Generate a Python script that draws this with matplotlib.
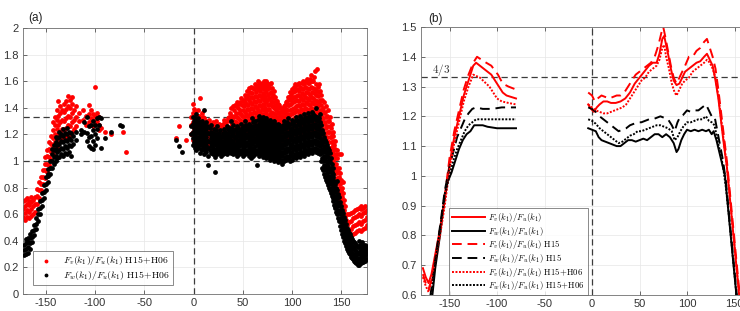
import matplotlib
matplotlib.use("Agg")
import matplotlib.pyplot as plt
import numpy as np
from matplotlib.ticker import FuncFormatter

plt.rcParams['font.family'] = ['Liberation Sans', 'DejaVu Sans']
plt.rcParams['mathtext.fontset'] = 'cm'
plt.rcParams['axes.unicode_minus'] = False

# ---- panel (a): scatter, columns of (angle, values) ----
red_cols = [
    (-173, (0.58, 0.64, 0.70)), (-171, (0.56, 0.61, 0.66, 0.71)),
    (-169, (0.58, 0.63, 0.68, 0.72)), (-167, (0.57, 0.62, 0.67, 0.70)),
    (-165, (0.59, 0.64, 0.69, 0.73)), (-163, (0.60, 0.66, 0.71)),
    (-161, (0.62, 0.68, 0.73)), (-159, (0.68, 0.74, 0.79)),
    (-157, (0.72, 0.78, 0.84)), (-155, (0.78, 0.83, 0.88)),
    (-153, (0.83, 0.88, 0.93)), (-151, (0.87, 0.93, 0.98, 1.03)),
    (-149, (0.92, 0.98, 1.04, 1.08)), (-147, (0.97, 1.03, 1.09, 1.14)),
    (-145, (1.01, 1.07, 1.13, 1.19)), (-143, (1.05, 1.11, 1.17, 1.23, 1.29)),
    (-141, (1.08, 1.14, 1.20, 1.27, 1.33)), (-139, (1.10, 1.17, 1.24, 1.31, 1.38)),
    (-137, (1.13, 1.20, 1.27, 1.34, 1.45)), (-135, (1.15, 1.22, 1.29, 1.36, 1.41)),
    (-133, (1.17, 1.24, 1.31, 1.38)), (-131, (1.16, 1.23, 1.30, 1.37, 1.43)),
    (-129, (1.18, 1.25, 1.32, 1.39, 1.45)), (-127, (1.20, 1.27, 1.34, 1.41, 1.49)),
    (-125, (1.19, 1.26, 1.33, 1.40, 1.46)), (-123, (1.22, 1.29, 1.36, 1.43, 1.48)),
    (-121, (1.24, 1.31, 1.38)), (-119, (1.26, 1.33, 1.41)),
    (-116, (1.30, 1.36)), (-112, (1.31, 1.38)), (-109, (1.27, 1.34)),
    (-106, (1.29, 1.35, 1.42)), (-104, (1.32, 1.38)), (-102, (1.26, 1.31, 1.35)),
    (-100, (1.28, 1.34, 1.56)), (-98, (1.30, 1.36)), (-96, (1.23, 1.27, 1.33)),
    (-94, (1.25,)), (-90, (1.22,)), (-84, (1.20,)), (-72, (1.22,)), (-69, (1.07,)),
    (-18, (1.17,)), (-15, (1.26,)), (-8, (1.16,)),
    (-3, (1.20, 1.27, 1.33)), (-1, (1.16, 1.22, 1.29, 1.36, 1.43)),
    (1, (1.13, 1.19, 1.25, 1.31, 1.37)), (3, (1.15, 1.21, 1.28, 1.34)),
    (5, (1.12, 1.18, 1.24, 1.30, 1.38)), (7, (1.16, 1.22, 1.28, 1.47)),
    (9, (1.13, 1.19, 1.25, 1.31, 1.36)), (11, (1.14, 1.20, 1.27, 1.32)),
    (13, (1.13, 1.19, 1.25, 1.30)), (15, (1.12, 1.18, 1.24, 1.29)),
    (17, (1.15, 1.21, 1.27)), (19, (1.12, 1.18, 1.23, 1.28)),
    (21, (1.14, 1.20, 1.26)), (23, (1.13, 1.19, 1.24, 1.30)),
    (25, (1.12, 1.17, 1.22)), (27, (1.14, 1.20, 1.25)),
    (29, (1.12, 1.18, 1.24)), (31, (1.13, 1.19, 1.26, 1.31)),
    (33, (1.14, 1.20, 1.27)), (35, (1.12, 1.18, 1.25, 1.32)),
    (37, (1.15, 1.22, 1.30, 1.36)), (39, (1.14, 1.20, 1.28, 1.34)),
    (41, (1.16, 1.23, 1.30, 1.38)), (43, (1.15, 1.22, 1.29, 1.36, 1.41)),
    (45, (1.17, 1.24, 1.32, 1.40)), (47, (1.16, 1.23, 1.31, 1.38, 1.44)),
    (49, (1.18, 1.26, 1.34, 1.42)), (51, (1.17, 1.25, 1.33, 1.41, 1.46)),
    (53, (1.19, 1.27, 1.35, 1.43, 1.48)), (55, (1.18, 1.26, 1.34, 1.42, 1.50)),
    (57, (1.20, 1.28, 1.36, 1.44, 1.52)), (59, (1.19, 1.27, 1.35, 1.43, 1.51)),
    (61, (1.21, 1.29, 1.37, 1.45, 1.54)), (63, (1.20, 1.28, 1.36, 1.44, 1.52, 1.57)),
    (65, (1.22, 1.30, 1.38, 1.46, 1.54, 1.60)), (67, (1.21, 1.29, 1.37, 1.45, 1.53, 1.59)),
    (69, (1.23, 1.31, 1.39, 1.47, 1.55, 1.58)), (71, (1.22, 1.30, 1.38, 1.46, 1.54, 1.60)),
    (73, (1.24, 1.32, 1.40, 1.48, 1.56)), (75, (1.22, 1.30, 1.38, 1.46, 1.54, 1.59)),
    (77, (1.23, 1.31, 1.39, 1.47, 1.55)), (79, (1.21, 1.29, 1.37, 1.45, 1.52, 1.59)),
    (81, (1.20, 1.28, 1.36, 1.44, 1.50)), (83, (1.19, 1.27, 1.35, 1.42, 1.48)),
    (85, (1.18, 1.26, 1.33, 1.40, 1.45)), (87, (1.16, 1.24, 1.31, 1.37, 1.42)),
    (89, (1.15, 1.22, 1.29, 1.34, 1.40)), (91, (1.14, 1.21, 1.28, 1.33, 1.38)),
    (93, (1.16, 1.23, 1.30, 1.36, 1.42)), (95, (1.17, 1.24, 1.31, 1.38, 1.45)),
    (97, (1.18, 1.26, 1.34, 1.42, 1.48)), (99, (1.19, 1.27, 1.35, 1.43, 1.50)),
    (101, (1.20, 1.28, 1.36, 1.44, 1.52)), (103, (1.21, 1.29, 1.37, 1.45, 1.53, 1.58)),
    (105, (1.22, 1.30, 1.38, 1.46, 1.54)), (107, (1.21, 1.29, 1.37, 1.45, 1.53, 1.59)),
    (109, (1.23, 1.31, 1.39, 1.47, 1.55)), (111, (1.22, 1.30, 1.38, 1.46, 1.54, 1.60)),
    (113, (1.24, 1.32, 1.40, 1.48, 1.56)), (115, (1.23, 1.31, 1.39, 1.47, 1.55, 1.62)),
    (117, (1.22, 1.30, 1.38, 1.46, 1.54, 1.59)), (119, (1.24, 1.32, 1.40, 1.48, 1.56, 1.65)),
    (121, (1.23, 1.31, 1.39, 1.47, 1.55, 1.60)), (123, (1.22, 1.30, 1.38, 1.46, 1.54, 1.68)),
    (125, (1.21, 1.29, 1.37, 1.45, 1.53, 1.69)), (127, (1.20, 1.28, 1.36, 1.44, 1.52, 1.58)),
    (130, (1.14, 1.22, 1.30, 1.38, 1.46)), (132, (1.12, 1.20, 1.28, 1.36, 1.44)),
    (134, (1.10, 1.17, 1.25, 1.33, 1.41)), (136, (1.06, 1.14, 1.22, 1.30, 1.38)),
    (138, (1.02, 1.10, 1.18, 1.26, 1.33)), (140, (0.98, 1.06, 1.14, 1.21, 1.28)),
    (142, (0.92, 1.00, 1.08, 1.15, 1.22)), (144, (0.86, 0.94, 1.02, 1.09, 1.15)),
    (146, (0.79, 0.87, 0.95, 1.02, 1.08)), (148, (0.72, 0.80, 0.88, 0.95, 1.05)),
    (150, (0.62, 0.70, 0.78, 0.86, 1.05)), (152, (0.52, 0.60, 0.68, 0.76, 0.84)),
    (154, (0.42, 0.50, 0.58, 0.66)), (156, (0.37, 0.45, 0.52, 0.60)),
    (158, (0.40, 0.47, 0.54, 0.60)), (160, (0.43, 0.49, 0.55, 0.61)),
    (162, (0.45, 0.51, 0.57, 0.62)), (164, (0.46, 0.52, 0.58, 0.63)),
    (166, (0.47, 0.53, 0.59, 0.64)), (168, (0.48, 0.54, 0.60, 0.65)),
    (170, (0.47, 0.53, 0.59, 0.64, 0.66)), (172, (0.49, 0.55, 0.61, 0.65)),
    (174, (0.50, 0.56, 0.62, 0.66)), (176, (0.52, 0.58, 0.63)),
]

# denser red points inside the main cloud
red_fill_cols = [
    (0, (1.19, 1.25, 1.33, 1.39)), (2, (1.16, 1.22, 1.28, 1.34)), (4, (1.18, 1.24, 1.31)),
    (6, (1.15, 1.21, 1.27, 1.34)), (8, (1.19, 1.25, 1.32)), (10, (1.16, 1.22, 1.28, 1.33)),
    (12, (1.17, 1.23, 1.29)), (14, (1.16, 1.22, 1.27)), (16, (1.18, 1.24, 1.31)),
    (18, (1.15, 1.21, 1.26)), (20, (1.17, 1.23, 1.29)), (22, (1.16, 1.22, 1.27)),
    (24, (1.15, 1.20, 1.26)), (26, (1.17, 1.23, 1.28)), (28, (1.15, 1.21, 1.27)),
    (30, (1.16, 1.22, 1.28)), (32, (1.17, 1.23, 1.29)), (34, (1.16, 1.23, 1.30)),
    (36, (1.18, 1.25, 1.33)), (38, (1.18, 1.26, 1.33, 1.40)), (40, (1.17, 1.25, 1.33, 1.41)),
    (42, (1.19, 1.27, 1.34, 1.42)), (44, (1.19, 1.26, 1.33, 1.44)),
    (46, (1.20, 1.28, 1.36, 1.43)), (48, (1.20, 1.27, 1.35, 1.47)),
    (50, (1.22, 1.30, 1.38, 1.45)), (52, (1.21, 1.29, 1.37, 1.44, 1.50)),
    (54, (1.23, 1.31, 1.39, 1.47, 1.53)), (56, (1.22, 1.30, 1.38, 1.46, 1.55)),
    (58, (1.24, 1.32, 1.40, 1.48, 1.56)), (60, (1.23, 1.31, 1.39, 1.47, 1.55)),
    (62, (1.25, 1.33, 1.41, 1.49, 1.58)), (64, (1.24, 1.32, 1.40, 1.48, 1.56)),
    (66, (1.26, 1.34, 1.42, 1.50, 1.57)), (68, (1.25, 1.33, 1.41, 1.49, 1.56)),
    (70, (1.27, 1.35, 1.43, 1.51, 1.59)), (72, (1.26, 1.34, 1.42, 1.50, 1.57)),
    (74, (1.28, 1.36, 1.44, 1.52, 1.60)), (76, (1.26, 1.34, 1.42, 1.50, 1.57)),
    (78, (1.27, 1.35, 1.43, 1.51, 1.58)), (80, (1.25, 1.33, 1.41, 1.48, 1.55)),
    (82, (1.24, 1.32, 1.40, 1.47, 1.53)), (84, (1.23, 1.31, 1.38, 1.45)),
    (86, (1.22, 1.29, 1.36, 1.43)), (88, (1.20, 1.27, 1.34, 1.40)),
    (90, (1.18, 1.25, 1.31, 1.37)), (92, (1.18, 1.25, 1.31, 1.36, 1.41)),
    (94, (1.20, 1.27, 1.33, 1.39, 1.44)), (96, (1.21, 1.28, 1.35, 1.42, 1.48)),
    (98, (1.22, 1.30, 1.38, 1.46, 1.52)), (100, (1.23, 1.31, 1.39, 1.47, 1.54)),
    (102, (1.24, 1.32, 1.40, 1.48, 1.56)), (104, (1.25, 1.33, 1.41, 1.49, 1.57)),
    (106, (1.26, 1.34, 1.42, 1.50, 1.58)), (108, (1.25, 1.33, 1.41, 1.49, 1.56)),
    (110, (1.27, 1.35, 1.43, 1.51, 1.59)), (112, (1.26, 1.34, 1.42, 1.50, 1.58)),
    (114, (1.28, 1.36, 1.44, 1.52, 1.60)), (116, (1.27, 1.35, 1.43, 1.51, 1.59)),
    (118, (1.26, 1.34, 1.42, 1.50, 1.62)), (120, (1.28, 1.36, 1.44, 1.52, 1.60)),
    (122, (1.27, 1.35, 1.43, 1.51, 1.63)), (124, (1.26, 1.34, 1.42, 1.50, 1.58)),
    (126, (1.25, 1.33, 1.41, 1.49, 1.56)), (128, (1.22, 1.30, 1.38, 1.46, 1.53)),
    (129, (1.18, 1.26, 1.34, 1.42, 1.50)), (131, (1.16, 1.24, 1.32, 1.40)),
    (133, (1.14, 1.21, 1.29, 1.37)), (135, (1.10, 1.18, 1.26, 1.34)),
    (137, (1.06, 1.14, 1.22, 1.30)), (139, (1.02, 1.10, 1.18, 1.25)),
    (141, (0.96, 1.04, 1.12, 1.19)), (143, (0.90, 0.98, 1.05, 1.12)),
    (145, (0.83, 0.91, 0.98, 1.05)), (147, (0.76, 0.84, 0.92)),
    (149, (0.67, 0.75, 0.83, 0.91)), (151, (0.57, 0.65, 0.73, 0.80)),
    (153, (0.47, 0.55, 0.63, 0.71)), (155, (0.40, 0.48, 0.56)),
]

black_cols = [
    (-172, (0.29, 0.33, 0.37)), (-170, (0.30, 0.34, 0.38, 0.41)),
    (-168, (0.31, 0.35, 0.39, 0.42)), (-166, (0.34, 0.38, 0.42, 0.45)),
    (-164, (0.39, 0.43, 0.47)), (-162, (0.44, 0.48, 0.52)),
    (-160, (0.49, 0.53, 0.57)), (-158, (0.55, 0.60, 0.64)),
    (-156, (0.60, 0.65, 0.70)), (-154, (0.66, 0.71, 0.76)),
    (-152, (0.72, 0.77, 0.82)), (-150, (0.78, 0.83, 0.88)),
    (-148, (0.84, 0.89, 0.94, 0.90)), (-146, (0.90, 0.95, 1.00)),
    (-144, (0.95, 1.00, 1.05, 1.09)), (-142, (0.98, 1.03, 1.08, 1.12)),
    (-140, (1.00, 1.04, 1.09, 1.14, 1.18)), (-138, (1.02, 1.07, 1.12, 1.17)),
    (-136, (1.03, 1.08, 1.13, 1.18, 1.22)), (-134, (1.05, 1.10, 1.15, 1.20)),
    (-132, (1.04, 1.09, 1.14, 1.19, 1.24)), (-130, (1.06, 1.11, 1.16, 1.21)),
    (-128, (1.05, 1.10, 1.15, 1.20, 1.25)), (-126, (1.07, 1.12, 1.17, 1.22)),
    (-124, (1.04, 1.11, 1.16, 1.21)), (-122, (1.13, 1.19)), (-119, (1.16, 1.22)),
    (-114, (1.20, 1.23)), (-111, (1.22, 1.29)), (-108, (1.15, 1.21, 1.33)),
    (-106, (1.11, 1.18, 1.26)), (-104, (1.10, 1.19, 1.27)),
    (-102, (1.09, 1.15, 1.23, 1.30)), (-100, (1.12, 1.20, 1.27)),
    (-98, (1.17, 1.24, 1.32)), (-96, (1.27, 1.33)), (-94, (1.10, 1.32)),
    (-90, (1.17,)), (-84, (1.22,)), (-75, (1.27,)), (-73, (1.26,)),
    (-18, (1.16,)), (-15, (1.11,)), (-12, (1.07,)),
    (-3, (1.20, 1.26)), (-1, (1.12, 1.17, 1.22, 1.28, 1.33)),
    (1, (1.10, 1.15, 1.20, 1.26, 1.32)), (3, (1.08, 1.13, 1.18, 1.24, 1.30, 1.35)),
    (5, (1.10, 1.15, 1.21, 1.27, 1.32)), (7, (1.06, 1.12, 1.18, 1.23, 1.29)),
    (9, (1.08, 1.13, 1.19, 1.25, 1.30)), (11, (1.05, 1.11, 1.17, 1.22, 1.27, 1.38)),
    (13, (1.07, 1.12, 1.18, 1.24, 1.29)), (15, (1.04, 1.10, 1.15, 1.21, 0.97)),
    (18, (1.06, 1.11, 1.17, 1.22, 1.27)), (20, (1.05, 1.10, 1.16, 1.21)),
    (22, (1.03, 1.08, 1.14, 1.20, 0.92)), (24, (1.05, 1.10, 1.15, 1.20, 1.26)),
    (26, (1.06, 1.11, 1.16, 1.21)), (28, (1.04, 1.09, 1.14, 1.19)),
    (30, (1.05, 1.10, 1.15, 1.21)), (32, (1.06, 1.11, 1.16, 1.22)),
    (34, (1.05, 1.10, 1.15, 1.20, 1.26)), (36, (1.07, 1.12, 1.17, 1.22)),
    (38, (1.06, 1.11, 1.16, 1.22, 1.30)), (40, (1.05, 1.10, 1.15, 1.21, 1.27)),
    (42, (1.06, 1.11, 1.17, 1.23)), (44, (1.04, 1.10, 1.15, 1.21, 1.26)),
    (46, (1.05, 1.11, 1.16, 1.22)), (48, (1.06, 1.12, 1.17, 1.23, 1.28)),
    (50, (1.04, 1.10, 1.16, 1.22)), (52, (1.05, 1.11, 1.17, 1.23, 1.30)),
    (54, (1.06, 1.12, 1.18, 1.24)), (56, (1.04, 1.10, 1.16, 1.22, 1.28)),
    (58, (1.02, 1.08, 1.14, 1.20, 1.26)), (60, (1.04, 1.10, 1.16, 1.22, 1.29)),
    (62, (1.05, 1.11, 1.17, 1.23, 1.30)), (64, (0.97, 1.06, 1.12, 1.18, 1.24)),
    (66, (1.04, 1.10, 1.16, 1.22, 1.28, 1.34)), (68, (1.05, 1.11, 1.17, 1.23, 1.29)),
    (70, (1.03, 1.09, 1.15, 1.21, 1.27, 1.33)), (72, (1.04, 1.10, 1.16, 1.22, 1.28)),
    (74, (1.02, 1.08, 1.14, 1.20, 1.26, 1.32)), (76, (1.03, 1.09, 1.15, 1.21, 1.27)),
    (78, (1.01, 1.07, 1.13, 1.19, 1.25, 1.31)), (80, (1.02, 1.08, 1.14, 1.20, 1.26)),
    (82, (1.00, 1.06, 1.12, 1.18, 1.24, 1.30)), (84, (1.01, 1.07, 1.13, 1.19, 1.25)),
    (86, (0.99, 1.05, 1.11, 1.17, 1.23, 1.28)), (88, (1.00, 1.06, 1.12, 1.18, 1.24)),
    (90, (0.98, 1.04, 1.10, 1.16, 1.22)), (92, (1.00, 1.06, 1.12, 1.18, 1.24, 1.30)),
    (94, (1.01, 1.07, 1.13, 1.19, 1.25)), (96, (1.02, 1.08, 1.14, 1.20, 1.26, 1.32)),
    (98, (1.00, 1.06, 1.12, 1.18, 1.24)), (100, (1.01, 1.07, 1.13, 1.19, 1.25, 1.31)),
    (102, (1.03, 1.09, 1.15, 1.21, 1.27)), (104, (1.02, 1.08, 1.14, 1.20, 1.26, 1.33)),
    (106, (1.04, 1.10, 1.16, 1.22, 1.28)), (108, (1.03, 1.09, 1.15, 1.21, 1.27, 1.34)),
    (110, (1.05, 1.11, 1.17, 1.23, 1.29)), (112, (1.04, 1.10, 1.16, 1.22, 1.28, 1.35)),
    (114, (1.06, 1.12, 1.18, 1.24, 1.30)), (116, (1.05, 1.11, 1.17, 1.23, 1.29, 1.36)),
    (118, (1.07, 1.13, 1.19, 1.25, 1.31)), (120, (1.06, 1.12, 1.18, 1.24, 1.30, 1.37)),
    (122, (1.08, 1.14, 1.20, 1.26, 1.32)), (124, (1.07, 1.13, 1.19, 1.25, 1.31, 1.40)),
    (126, (1.06, 1.12, 1.18, 1.24, 1.30)), (128, (1.05, 1.11, 1.17, 1.23, 1.29, 1.35)),
    (130, (0.95, 1.02, 1.09, 1.16, 1.23)), (132, (0.90, 0.97, 1.04, 1.11, 1.18)),
    (134, (0.86, 0.93, 1.00, 1.07, 1.14)), (136, (0.82, 0.89, 0.96, 1.03, 1.10)),
    (138, (0.78, 0.85, 0.92, 0.99, 1.06)), (140, (0.74, 0.80, 0.86, 0.92, 0.98)),
    (142, (0.70, 0.76, 0.82, 0.88, 0.95)), (144, (0.65, 0.71, 0.77, 0.83, 0.66)),
    (146, (0.60, 0.66, 0.72, 0.78, 0.85)), (148, (0.55, 0.61, 0.67, 0.73)),
    (150, (0.48, 0.54, 0.60, 0.66)), (152, (0.43, 0.49, 0.55, 0.61)),
    (154, (0.38, 0.44, 0.50, 0.56)), (156, (0.34, 0.39, 0.45, 0.50)),
    (158, (0.31, 0.36, 0.41, 0.46)), (160, (0.28, 0.33, 0.38, 0.43)),
    (162, (0.26, 0.30, 0.35, 0.40)), (164, (0.24, 0.28, 0.33, 0.38)),
    (166, (0.23, 0.27, 0.31, 0.36)), (168, (0.22, 0.26, 0.30, 0.35, 0.40)),
    (170, (0.23, 0.27, 0.31, 0.36)), (172, (0.24, 0.28, 0.32, 0.37)),
    (174, (0.25, 0.29, 0.33, 0.37)), (176, (0.26, 0.30, 0.34)),
]

# denser black points inside the main cloud
black_fill_cols = [
    (0, (1.14, 1.20, 1.25, 1.30)), (2, (1.12, 1.18, 1.23, 1.29)), (4, (1.11, 1.16, 1.22, 1.27)),
    (6, (1.13, 1.18, 1.24, 1.29)), (8, (1.09, 1.15, 1.21, 1.26)), (10, (1.10, 1.16, 1.22, 1.28)),
    (12, (1.08, 1.14, 1.20, 1.25)), (14, (1.10, 1.15, 1.21, 1.26)),
    (17, (1.08, 1.14, 1.20, 1.25)), (19, (1.07, 1.13, 1.19)), (21, (1.08, 1.13, 1.18, 1.24)),
    (23, (1.06, 1.12, 1.17, 1.23)), (25, (1.08, 1.13, 1.18)), (27, (1.07, 1.12, 1.17, 1.23)),
    (29, (1.07, 1.12, 1.18)), (31, (1.08, 1.13, 1.19, 1.24)), (33, (1.08, 1.13, 1.18)),
    (35, (1.07, 1.12, 1.18, 1.24)), (37, (1.09, 1.14, 1.19, 1.25)),
    (39, (1.08, 1.13, 1.19, 1.24)), (41, (1.07, 1.13, 1.19)), (43, (1.08, 1.13, 1.18, 1.24)),
    (45, (1.07, 1.13, 1.19, 1.25)), (47, (1.08, 1.14, 1.20)), (49, (1.07, 1.13, 1.19, 1.25)),
    (51, (1.08, 1.14, 1.20, 1.26)), (53, (1.08, 1.14, 1.20, 1.27)),
    (55, (1.07, 1.13, 1.19, 1.25)), (57, (1.05, 1.11, 1.17, 1.23)),
    (59, (1.07, 1.13, 1.19, 1.25, 1.32)), (61, (1.08, 1.14, 1.20, 1.26)),
    (63, (1.08, 1.15, 1.21, 1.27)), (65, (1.07, 1.13, 1.19, 1.25, 1.31)),
    (67, (1.08, 1.14, 1.20, 1.26, 1.32)), (69, (1.06, 1.12, 1.18, 1.24, 1.30)),
    (71, (1.07, 1.13, 1.19, 1.25, 1.31)), (73, (1.05, 1.11, 1.17, 1.23, 1.29)),
    (75, (1.06, 1.12, 1.18, 1.24, 1.30)), (77, (1.04, 1.10, 1.16, 1.22, 1.28)),
    (79, (1.05, 1.11, 1.17, 1.23, 1.29)), (81, (1.03, 1.09, 1.15, 1.21, 1.27)),
    (83, (1.04, 1.10, 1.16, 1.22, 1.28)), (85, (1.02, 1.08, 1.14, 1.20, 1.26)),
    (87, (1.03, 1.09, 1.15, 1.21, 1.27)), (89, (1.01, 1.07, 1.13, 1.19, 1.25)),
    (91, (1.01, 1.07, 1.13, 1.19, 1.27)), (93, (1.03, 1.09, 1.15, 1.21, 1.27)),
    (95, (1.04, 1.10, 1.16, 1.22, 1.29)), (97, (1.03, 1.09, 1.15, 1.21, 1.28)),
    (99, (1.04, 1.10, 1.16, 1.22, 1.28)), (101, (1.04, 1.10, 1.16, 1.22, 1.29)),
    (103, (1.05, 1.11, 1.17, 1.23, 1.30)), (105, (1.06, 1.12, 1.18, 1.24, 1.31)),
    (107, (1.06, 1.12, 1.18, 1.24, 1.30)), (109, (1.07, 1.13, 1.19, 1.25, 1.32)),
    (111, (1.07, 1.13, 1.19, 1.25, 1.31)), (113, (1.08, 1.14, 1.20, 1.26, 1.33)),
    (115, (1.08, 1.14, 1.20, 1.26, 1.32)), (117, (1.09, 1.15, 1.21, 1.27, 1.34)),
    (119, (1.09, 1.15, 1.21, 1.27, 1.33)), (121, (1.09, 1.15, 1.21, 1.27, 1.35)),
    (123, (1.10, 1.16, 1.22, 1.28, 1.34)), (125, (1.09, 1.15, 1.21, 1.27, 1.33)),
    (127, (1.08, 1.14, 1.20, 1.26, 1.32)), (129, (1.00, 1.06, 1.13, 1.20, 1.27)),
    (131, (0.93, 1.00, 1.07, 1.14, 1.21)), (133, (0.88, 0.95, 1.02, 1.09, 1.16)),
    (135, (0.84, 0.91, 0.98, 1.05, 1.12)), (137, (0.80, 0.87, 0.94, 1.01, 1.08)),
    (139, (0.76, 0.83, 0.89, 0.95, 1.02)), (141, (0.72, 0.78, 0.84, 0.90)),
    (143, (0.67, 0.73, 0.79, 0.85)), (145, (0.62, 0.68, 0.74, 0.80)),
    (147, (0.57, 0.63, 0.69, 0.75)), (149, (0.51, 0.57, 0.63, 0.69)),
    (151, (0.45, 0.51, 0.57, 0.63)), (153, (0.40, 0.46, 0.52, 0.58)),
    (155, (0.36, 0.41, 0.47, 0.53)), (157, (0.32, 0.38, 0.43, 0.48)),
    (159, (0.30, 0.35, 0.40, 0.45)), (161, (0.27, 0.31, 0.36, 0.41)),
    (163, (0.25, 0.29, 0.34, 0.39)), (165, (0.23, 0.28, 0.32, 0.37)),
    (167, (0.22, 0.26, 0.31, 0.35)), (169, (0.23, 0.27, 0.32, 0.37)),
    (171, (0.24, 0.29, 0.34, 0.39)), (173, (0.25, 0.30, 0.35)), (175, (0.26, 0.31, 0.36)),
]

# ---- panel (b): averaged ratios, two segments each (NaN = gap) ----
rs_x = [-178, -175, -172, -169, -166, -163, -160, -155, -150, -145, -140, -135, -130, -125, -122,
        -118, -114, -110, -106, -102, -98, -94, -90, -85, -80, np.nan,
        -4, -1, 2, 5, 8, 12, 16, 20, 25, 30, 35, 40, 45, 50, 55, 60, 64, 68, 71, 74, 76, 78, 80,
        83, 86, 89, 92, 95, 98, 102, 106, 110, 114, 118, 121, 124, 127, 130, 133, 136, 139, 142,
        145, 148, 151, 154, 157]
rs_y = [0.69, 0.66, 0.64, 0.67, 0.72, 0.77, 0.82, 0.92, 1.04, 1.13, 1.20, 1.27, 1.32, 1.37, 1.38,
        1.37, 1.36, 1.35, 1.34, 1.32, 1.30, 1.28, 1.27, 1.265, 1.26, np.nan,
        1.24, 1.225, 1.215, 1.23, 1.24, 1.25, 1.25, 1.245, 1.245, 1.25, 1.26, 1.28, 1.31, 1.33,
        1.35, 1.37, 1.38, 1.38, 1.41, 1.46, 1.47, 1.44, 1.41, 1.36, 1.32, 1.305, 1.31, 1.33,
        1.35, 1.36, 1.37, 1.38, 1.385, 1.40, 1.41, 1.39, 1.37, 1.32, 1.26, 1.18, 1.10, 1.03,
        0.93, 0.83, 0.73, 0.63, 0.53]

rd_x = [-178, -175, -172, -169, -166, -163, -160, -155, -150, -145, -140, -135, -130, -125, -121,
        -114, -106, -99, -94, -88, -80, np.nan,
        -4, 0, 3, 6, 10, 14, 18, 22, 26, 30, 34, 38, 42, 46, 50, 54, 58, 62, 66, 70, 73, 75, 77,
        80, 83, 86, 89, 92, 95, 98, 102, 106, 110, 114, 118, 121, 124, 127, 130, 133, 136, 139,
        142, 145, 148, 151, 154, 157]
rd_y = [0.67, 0.64, 0.62, 0.65, 0.71, 0.76, 0.81, 0.93, 1.06, 1.15, 1.22, 1.29, 1.34, 1.38, 1.40,
        1.385, 1.37, 1.34, 1.31, 1.30, 1.29, np.nan,
        1.28, 1.27, 1.25, 1.26, 1.27, 1.265, 1.26, 1.265, 1.27, 1.27, 1.28, 1.30, 1.32, 1.34,
        1.35, 1.36, 1.37, 1.38, 1.40, 1.44, 1.48, 1.50, 1.47, 1.42, 1.37, 1.33, 1.31, 1.33, 1.35,
        1.37, 1.40, 1.40, 1.42, 1.43, 1.45, 1.46, 1.43, 1.40, 1.36, 1.29, 1.21, 1.13, 1.05, 0.95,
        0.85, 0.75, 0.65, 0.55]

rp_x = [-178, -175, -172, -169, -166, -163, -160, -155, -150, -145, -140, -135, -130, -125,
        -118, -108, -100, -95, -88, -80, np.nan,
        -4, 0, 4, 8, 12, 16, 20, 24, 28, 32, 36, 40, 44, 48, 52, 56, 60, 64, 68, 71, 74, 76, 78,
        81, 84, 87, 89, 92, 95, 98, 102, 106, 110, 114, 118, 121, 124, 127, 130, 133, 136, 139,
        142, 145, 148, 151, 154, 157]
rp_y = [0.66, 0.63, 0.61, 0.64, 0.70, 0.75, 0.80, 0.90, 1.02, 1.11, 1.18, 1.25, 1.30, 1.34,
        1.33, 1.30, 1.26, 1.25, 1.245, 1.24, np.nan,
        1.24, 1.23, 1.22, 1.215, 1.21, 1.21, 1.215, 1.22, 1.225, 1.23, 1.24, 1.26, 1.28, 1.30,
        1.32, 1.33, 1.35, 1.36, 1.37, 1.39, 1.43, 1.44, 1.40, 1.36, 1.31, 1.28, 1.27, 1.29, 1.31,
        1.32, 1.33, 1.35, 1.36, 1.37, 1.38, 1.39, 1.38, 1.36, 1.33, 1.27, 1.19, 1.11, 1.03, 0.93,
        0.83, 0.73, 0.63, 0.53]

ks_x = [-172, -168, -165, -160, -155, -152, -148, -145, -140, -136, -132, -128, -124, -120, -115,
        -110, -100, -90, -80, np.nan,
        -4, 0, 4, 7, 10, 14, 18, 22, 26, 30, 34, 38, 42, 46, 50, 54, 58, 62, 66, 70, 74, 78, 82,
        86, 89, 91, 94, 97, 100, 104, 108, 112, 116, 120, 123, 126, 128, 131, 134, 137, 140, 143,
        146, 149, 152, 155]
ks_y = [0.52, 0.60, 0.69, 0.80, 0.93, 0.98, 1.01, 1.04, 1.09, 1.12, 1.14, 1.15, 1.17, 1.17,
        1.17, 1.165, 1.16, 1.16, 1.16, np.nan,
        1.16, 1.155, 1.15, 1.13, 1.12, 1.115, 1.11, 1.105, 1.10, 1.10, 1.11, 1.12, 1.12, 1.115,
        1.12, 1.125, 1.12, 1.13, 1.14, 1.14, 1.13, 1.14, 1.13, 1.11, 1.08, 1.09, 1.12, 1.14,
        1.155, 1.15, 1.155, 1.15, 1.155, 1.15, 1.155, 1.14, 1.15, 1.12, 1.08, 1.04, 1.00, 0.90,
        0.80, 0.70, 0.60, 0.50]

kd_x = [-173, -170, -165, -160, -155, -150, -146, -142, -138, -134, -130, -126, -122, -115,
        -105, -95, -80, np.nan,
        -4, 0, 4, 8, 12, 16, 20, 24, 28, 32, 36, 40, 44, 48, 52, 56, 60, 64, 68, 72, 76, 80, 84,
        87, 90, 93, 96, 100, 104, 108, 112, 116, 120, 123, 126, 129, 132, 135, 138, 141, 144, 147,
        150, 153]
kd_y = [0.52, 0.60, 0.72, 0.83, 0.95, 1.03, 1.08, 1.13, 1.16, 1.19, 1.21, 1.225, 1.23, 1.225,
        1.225, 1.23, 1.23, np.nan,
        1.23, 1.225, 1.215, 1.20, 1.19, 1.18, 1.17, 1.16, 1.15, 1.155, 1.16, 1.17, 1.175, 1.18,
        1.18, 1.185, 1.19, 1.19, 1.195, 1.20, 1.195, 1.19, 1.17, 1.15, 1.18, 1.20, 1.205, 1.22,
        1.215, 1.22, 1.22, 1.23, 1.24, 1.22, 1.20, 1.20, 1.15, 1.10, 1.05, 0.98, 0.88, 0.78,
        0.68, 0.58]

kp_x = [-172, -169, -165, -160, -155, -150, -146, -142, -138, -134, -130, -126, -122, -110,
        -100, -80, np.nan,
        -4, 0, 4, 8, 12, 16, 20, 24, 28, 32, 36, 40, 44, 48, 52, 56, 60, 64, 68, 72, 76, 80, 84,
        87, 90, 93, 96, 100, 104, 108, 112, 116, 120, 123, 126, 129, 132, 135, 138, 141, 144, 147,
        150, 153]
kp_y = [0.53, 0.60, 0.71, 0.82, 0.94, 1.00, 1.05, 1.09, 1.12, 1.15, 1.17, 1.18, 1.19, 1.19,
        1.19, 1.19, np.nan,
        1.19, 1.185, 1.175, 1.16, 1.15, 1.14, 1.13, 1.12, 1.11, 1.115, 1.125, 1.135, 1.14, 1.15,
        1.15, 1.155, 1.16, 1.165, 1.17, 1.17, 1.165, 1.16, 1.15, 1.12, 1.13, 1.15, 1.165, 1.18,
        1.18, 1.185, 1.19, 1.19, 1.20, 1.185, 1.18, 1.17, 1.12, 1.08, 1.03, 0.96, 0.87, 0.77,
        0.67, 0.57]


def flatten(cols):
    xs = [x for x, ys in cols for _ in ys]
    ys = [y for _, ys in cols for y in ys]
    return np.array(xs, float), np.array(ys, float)


def matlab_style(ax):
    ax.tick_params(direction='in', length=3, width=0.5, colors='#333333',
                   labelsize=8, top=True, right=True, pad=3)
    for s in ax.spines.values():
        s.set_color('#6f6f6f')
        s.set_linewidth(0.6)
    ax.grid(True, color='#e6e6e6', lw=0.5)
    ax.set_axisbelow(True)
    ax.yaxis.set_major_formatter(FuncFormatter(lambda v, p: '%g' % round(v, 2)))


fig = plt.figure(figsize=(7.4, 3.11), dpi=100)
ax1 = fig.add_axes([23 / 740, 17 / 311, 344 / 740, 266 / 311])
ax2 = fig.add_axes([421 / 740, 16 / 311, 342 / 740, 268 / 311])

grey = '#3c3c3c'
dash = (0, (5, 3))

# (a)
rx, ry = flatten(red_cols + red_fill_cols)
bx, by = flatten(black_cols + black_fill_cols)
ax1.axhline(1, color=grey, lw=0.9, ls=dash, zorder=1)
ax1.axhline(4 / 3, color=grey, lw=0.9, ls=dash, zorder=1)
ax1.axvline(0, color=grey, lw=0.9, ls=dash, zorder=1)
ax1.scatter(rx, ry, s=12, c='#ff0000', lw=0, zorder=2,
            label=r'$F_v(k_1)/F_u(k_1)\ \mathrm{H15\!+\!H06}$')
ax1.scatter(bx, by, s=12, c='k', lw=0, zorder=3,
            label=r'$F_w(k_1)/F_u(k_1)\ \mathrm{H15\!+\!H06}$')
ax1.set_xlim(-173, 176)
ax1.set_ylim(0, 2)
ax1.set_xticks([-150, -100, -50, 0, 50, 100, 150])
ax1.set_yticks(np.arange(0, 2.01, 0.2))
matlab_style(ax1)
leg1 = ax1.legend(loc='lower left', bbox_to_anchor=(0.029, 0.034), borderaxespad=0,
                  fontsize=7, frameon=True, fancybox=False, edgecolor='#555555',
                  handletextpad=0.8, borderpad=0.3, labelspacing=0.2, markerscale=0.8)
leg1.get_frame().set_linewidth(0.6)
ax1.text(0.015, 1.025, '(a)', transform=ax1.transAxes, fontsize=8.5, color='#222222')

# (b)
ax2.axhline(4 / 3, color=grey, lw=0.9, ls=dash, zorder=1)
ax2.axvline(0, color=grey, lw=0.9, ls=dash, zorder=1)
ax2.text(-168, 1.345, r'$4/3$', fontsize=8, color='#333333')
lw = 1.4
ax2.plot(rs_x, rs_y, color='#ff0000', lw=lw, ls='-', label=r'$F_v(k_1)/F_u(k_1)$')
ax2.plot(ks_x, ks_y, color='k', lw=lw, ls='-', label=r'$F_w(k_1)/F_u(k_1)$')
ax2.plot(rd_x, rd_y, color='#ff0000', lw=lw, ls=(0, (5, 3)),
         label=r'$F_v(k_1)/F_u(k_1)\ \mathrm{H15}$')
ax2.plot(kd_x, kd_y, color='k', lw=lw, ls=(0, (5, 3)),
         label=r'$F_w(k_1)/F_u(k_1)\ \mathrm{H15}$')
ax2.plot(rp_x, rp_y, color='#ff0000', lw=lw, ls=(0, (1, 0.8)),
         label=r'$F_v(k_1)/F_u(k_1)\ \mathrm{H15\!+\!H06}$')
ax2.plot(kp_x, kp_y, color='k', lw=lw, ls=(0, (1, 0.8)),
         label=r'$F_w(k_1)/F_u(k_1)\ \mathrm{H15\!+\!H06}$')
ax2.set_xlim(-180, 180)
ax2.set_ylim(0.6, 1.5)
ax2.set_xticks([-150, -100, -50, 0, 50, 100, 150])
ax2.set_yticks(np.arange(0.6, 1.501, 0.1))
matlab_style(ax2)
leg2 = ax2.legend(loc='lower left', bbox_to_anchor=(0.082, 0.0), borderaxespad=0,
                  fontsize=6.3, frameon=True, fancybox=False, edgecolor='#555555',
                  handlelength=3.8, handletextpad=0.4, borderpad=0.3, labelspacing=0.08)
leg2.get_frame().set_linewidth(0.6)
ax2.text(0.02, 1.02, '(b)', transform=ax2.transAxes, fontsize=8.5, color='#222222')

fig.savefig('out.png', dpi=100)
